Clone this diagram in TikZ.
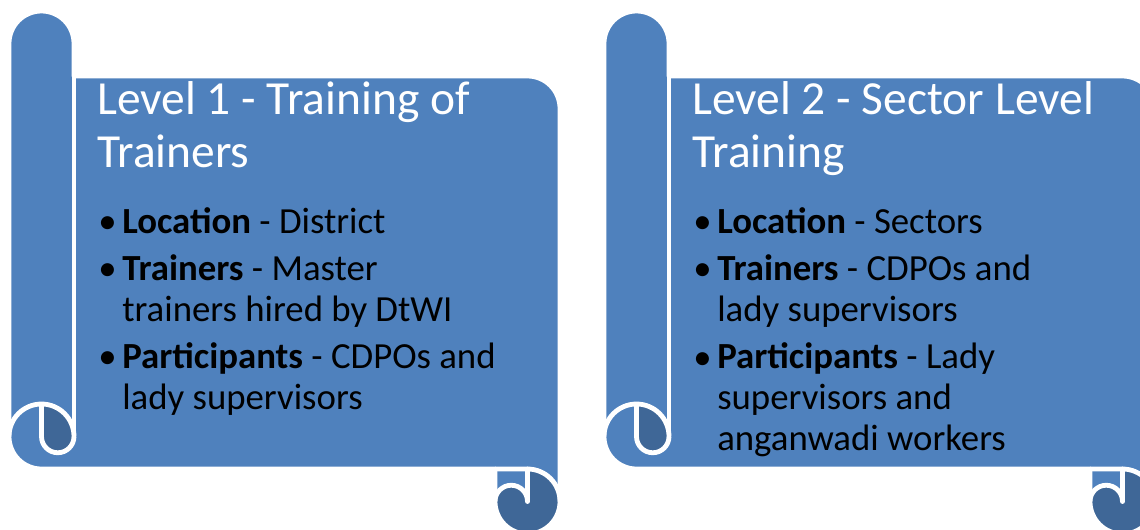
\documentclass[tikz,border=0pt]{standalone}
\usepackage{fontspec}
\setmainfont{Carlito}
\definecolor{scrollblue}{HTML}{4F81BD}
\definecolor{curlblue}{HTML}{3F6797}
\tikzset{
	outline/.style={draw=white, line width=3.6pt, line join=round},
	title/.style={anchor=base west, text=white, align=left, inner sep=0pt, font=\fontsize{35.6}{39.75}\selectfont},
	item/.style={anchor=base west, text=black, align=left, inner sep=0pt, font=\fontsize{27.6}{30.75}\selectfont},
	dot/.style={anchor=base west, text=black, inner sep=0pt, font=\fontsize{27.6}{30.75}\selectfont}
}
\begin{document}
\begin{tikzpicture}[x=0.75pt, y=0.75pt]
	\useasboundingbox (0,0) rectangle (1140,-529);
	\foreach \dx in {0,595}
	{
	\begin{scope}[shift={(\dx,0)}]
		% sheet with the rolled edges
		\fill[scrollblue] (9,-43.5) arc (180:0:32.5) -- (74,-76) -- (527.5,-76) arc (90:0:32.5) -- (560,-501.5) arc (0:-180:32.5) -- (495,-469) -- (41.5,-469) arc (270:180:32.5) -- cycle;
		\fill[curlblue] (41.5,-404) arc (90:0:32.5) arc (0:-180:16.25) -- cycle;
		\fill[curlblue] (527.5,-501.5) circle (32.5);
		\fill[scrollblue] (495,-469) -- (527.5,-469) -- (527.5,-501.5) arc (0:180:16.25) -- cycle;
		% white lines
		\draw[outline] (9,-43.5) arc (180:0:32.5) -- (74,-76) -- (527.5,-76) arc (90:0:32.5) -- (560,-501.5) arc (0:-180:32.5) -- (495,-469) -- (41.5,-469) arc (270:180:32.5) -- cycle;
		\draw[outline] (74,-76) -- (74,-436.5);
		\draw[outline] (9,-436.5) arc (180:0:32.5);
		\draw[outline] (41.5,-404) -- (41.5,-436.5) arc (180:360:16.25);
		\draw[outline] (495,-469) -- (527.5,-469) arc (90:0:32.5);
		\draw[outline, line cap=round] (527.5,-469) -- (527.5,-501.5);
		\draw[outline] (495,-501.5) arc (180:0:16.25);
	\end{scope}
	}
	% first scroll (multi-line nodes sit on their last baseline)
	\node[title] (head1) at (97,-167) {Level 1 - Training of\\Trainers};
	\node[dot] (dot11) at (98,-233) {•};
	\node[item] (loc1) at (122,-233) {\textbf{Location} - District};
	\node[dot] (dot12) at (98,-280) {•};
	\node[item] (tra1) at (122,-321) {\textbf{Trainers} - Master\\trainers hired by DtWI};
	\node[dot] (dot13) at (98,-368) {•};
	\node[item] (par1) at (122,-409) {\textbf{Participants} - CDPOs and\\lady supervisors};
	% second scroll
	\node[title] (head2) at (692,-167) {Level 2 - Sector Level\\Training};
	\node[dot] (dot21) at (693,-233) {•};
	\node[item] (loc2) at (717,-233) {\textbf{Location} - Sectors};
	\node[dot] (dot22) at (693,-280) {•};
	\node[item] (tra2) at (717,-321) {\textbf{Trainers} - CDPOs and\\lady supervisors};
	\node[dot] (dot23) at (693,-369) {•};
	\node[item] (par2) at (717,-450) {\textbf{Participants} - Lady\\supervisors and\\anganwadi workers};
\end{tikzpicture}
\end{document}
